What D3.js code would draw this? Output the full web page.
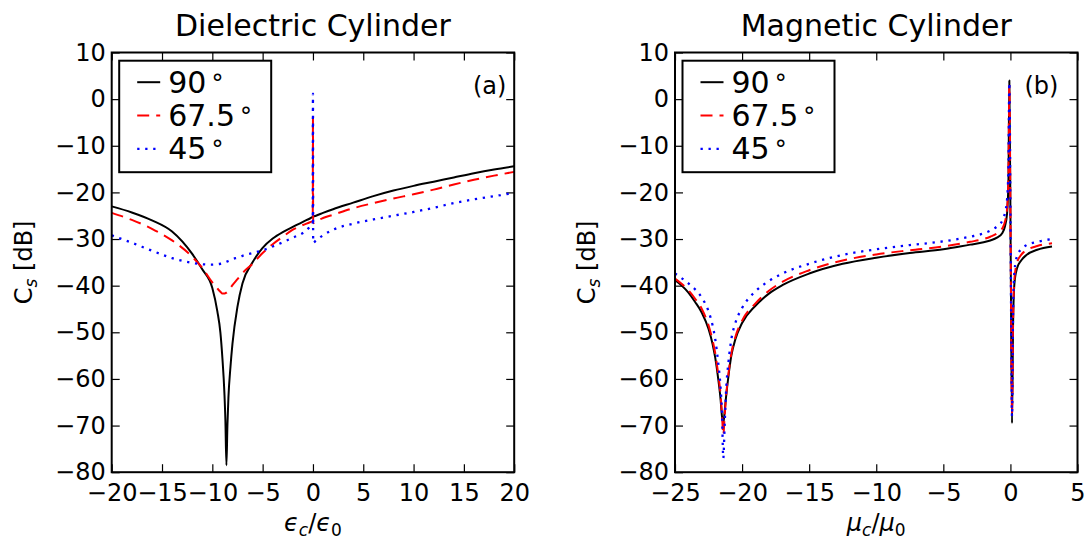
<!DOCTYPE html>
<html>
<head>
<meta charset="utf-8">
<script src="https://cdn.jsdelivr.net/npm/d3@7"></script>
<style>
  body { margin: 0; background: #fff; }
  svg text { font-family: "DejaVu Sans", sans-serif; }
  .tick text { font-size: 24px; fill: #000; }
  .tick line { stroke: #000; stroke-width: 1.2; }
</style>
</head>
<body>
<svg width="1087" height="540"></svg>
<script>
// dielectric cylinder, x = eps_c/eps_0
var epsX = [-20, -18, -16, -14, -12, -11, -10, -9.5, -9.2, -9.0, -8.8, -8.7, -8.6, -8.5, -8.4, -8.2, -8.0, -7.5, -7, -6, -5, -4, -3, -2, -1, -0.3, -0.02, 0, 0.02, 0.3, 1, 2, 4, 6, 8, 10, 12, 14, 16, 18, 20];
var eps90 = [-23.0, -24.3, -26.0, -28.4, -33.2, -36.5, -40.5, -45.5, -50, -55.5, -63, -69, -78.5, -70, -64, -57.5, -52.5, -44.5, -39.5, -35.0, -31.9, -29.9, -28.5, -27.4, -26.3, -25.6, -25.3, -25.3, -25.2, -25.0, -24.4, -23.6, -22.2, -20.8, -19.6, -18.6, -17.7, -16.8, -15.9, -15.1, -14.4];
var eps675 = [-24.4, -25.9, -27.8, -30.3, -33.8, -36.2, -39.3, -40.6, -41.3, -41.7, -41.7, -41.6, -41.5, -41.3, -41.0, -40.5, -39.9, -38.6, -37.3, -35.3, -33.0, -31.1, -29.5, -28.0, -27.0, -26.4, -26.1, -4, -26.6, -26.2, -25.5, -24.8, -23.4, -22.3, -21.3, -20.4, -19.4, -18.3, -17.3, -16.4, -15.6];
var eps45 = [-29.2, -30.8, -32.5, -34.1, -35.1, -35.4, -35.5, -35.4, -35.3, -35.2, -35.1, -35.0, -34.9, -34.8, -34.7, -34.5, -34.3, -34.0, -33.6, -33.0, -32.4, -31.6, -30.7, -29.7, -28.7, -27.4, -26.8, 1.2, -30.8, -30.3, -29.2, -28.0, -26.7, -25.8, -25.0, -24.2, -23.3, -22.3, -21.5, -20.8, -20.1];

// magnetic cylinder, x = mu_c/mu_0
var muX = [-25, -24, -23.5, -23, -22.5, -22.2, -22, -21.8, -21.6, -21.5, -21.4, -21.3, -21.2, -21, -20.8, -20.5, -20, -19, -18, -17, -15, -12.5, -10, -7.5, -5, -3, -2, -1.5, -1, -0.6, -0.4, -0.25, -0.15, -0.08, 0.02, 0.12, 0.2, 0.3, 0.5, 0.8, 1.2, 2, 3.1];
var mu90 = [-38.8, -41.5, -43.5, -45.8, -49.3, -52.5, -55.5, -59.5, -64.5, -68, -69.5, -67, -64, -59, -55, -51.5, -48, -44.3, -41.7, -39.9, -37.4, -35.3, -34.0, -33.0, -32.2, -31.2, -30.7, -30.3, -29.7, -28.7, -27.2, -24.5, -18, 4, -33, -69.5, -48, -39.5, -36.2, -34.6, -33.4, -32.3, -31.6];
var mu675 = [-38.5, -41, -42.8, -45, -48.5, -51.7, -54.5, -58.5, -63.5, -67.5, -72, -68, -64, -58.5, -54.5, -51, -47.5, -43.8, -41.1, -39.2, -36.7, -34.6, -33.3, -32.4, -31.6, -30.6, -30.0, -29.5, -28.8, -27.7, -26.2, -23.5, -17, 3, -32, -67.5, -47, -38.5, -35, -33.4, -32.4, -31.5, -30.9];
var mu45 = [-37.4, -39.5, -40.8, -42.6, -45.5, -48.5, -51.5, -56, -62, -67, -77, -70, -63, -56, -51.5, -48, -44.8, -41.2, -39, -37.4, -35.3, -33.4, -32.2, -31.3, -30.5, -29.5, -28.8, -28.2, -27.3, -26.0, -24.3, -21.5, -15, 3.5, -32, -68, -45, -37, -33.6, -32.2, -31.3, -30.6, -30.0];

var yTicks = [10, 0, -10, -20, -30, -40, -50, -60, -70, -80];
var epsTicks = [-20, -15, -10, -5, 0, 5, 10, 15, 20];
var muTicks = [-25, -20, -15, -10, -5, 0, 5];
var angles = ["90", "67.5", "45"];

var svg = d3.select("svg");
var fmt = d3.format("d");

var styles = [
  { color: "#000", width: 2, dash: null },
  { color: "#ff0000", width: 2, dash: "12,7" },
  { color: "#0000ff", width: 2.3, dash: "2.3,5.7" }
];

function panel(id, left, xDomain, xTicks, xs, ys, title, tag, tagX, xLabelA) {
  var top = 52.5, w = 402.5, h = 419.7;
  var x = d3.scaleLinear().domain(xDomain).range([0, w]);
  var y = d3.scaleLinear().domain([-80, 10]).range([h, 0]);
  var g = svg.append("g").attr("transform", "translate(" + left + "," + top + ")");

  g.append("clipPath").attr("id", "clip" + id)
    .append("rect").attr("width", w).attr("height", h);

  g.append("g").attr("transform", "translate(0," + h + ")")
    .call(d3.axisBottom(x).tickValues(xTicks).tickFormat(fmt).tickSizeInner(-8).tickSizeOuter(0).tickPadding(12));
  g.append("g")
    .call(d3.axisTop(x).tickValues(xTicks).tickFormat("").tickSizeInner(-8).tickSizeOuter(0));
  g.append("g")
    .call(d3.axisLeft(y).tickValues(yTicks).tickFormat(fmt).tickSizeInner(-8).tickSizeOuter(0).tickPadding(6));
  g.append("g").attr("transform", "translate(" + w + ",0)")
    .call(d3.axisRight(y).tickValues(yTicks).tickFormat("").tickSizeInner(-8).tickSizeOuter(0));
  g.selectAll(".domain").remove();
  g.selectAll("g").attr("font-family", null).attr("font-size", null);

  var line = d3.line()
    .x(function(d) { return x(d[0]); })
    .y(function(d) { return y(d[1]); })
    .curve(d3.curveMonotoneX);

  var curves = g.append("g").attr("clip-path", "url(#clip" + id + ")");
  ys.forEach(function(vals, i) {
    var pts = xs.map(function(v, k) { return [v, vals[k]]; });
    curves.append("path")
      .attr("d", line(pts))
      .attr("fill", "none")
      .attr("stroke", styles[i].color)
      .attr("stroke-width", styles[i].width)
      .attr("stroke-dasharray", styles[i].dash)
      .attr("stroke-linejoin", "round");
  });

  g.append("rect").attr("width", w).attr("height", h)
    .attr("fill", "none").attr("stroke", "#000").attr("stroke-width", 2);

  // legend
  var lg = g.append("g").attr("transform", "translate(7.5,8.2)");
  lg.append("rect").attr("width", 152).attr("height", 111.5)
    .attr("fill", "#fff").attr("stroke", "#000").attr("stroke-width", 2);
  angles.forEach(function(a, i) {
    var base = 32 + i * 33.3;
    lg.append("line")
      .attr("x1", 18).attr("x2", 41)
      .attr("y1", base - 10.5).attr("y2", base - 10.5)
      .attr("stroke", styles[i].color)
      .attr("stroke-width", styles[i].width)
      .attr("stroke-dasharray", styles[i].dash);
    var t = lg.append("text").attr("x", 49).attr("y", base)
      .style("font-size", "30px").text(a);
    t.append("tspan").attr("dx", 5).attr("dy", -1).style("font-size", "24px").text("°");
  });

  g.append("text").attr("x", x(tagX)).attr("y", y(1))
    .style("font-size", "24px").text(tag);

  svg.append("text").attr("x", left + w / 2).attr("y", 36)
    .attr("text-anchor", "middle").style("font-size", "30px").text(title);

  var yl = svg.append("text")
    .attr("transform", "translate(" + (left - 80) + "," + (top + h / 2) + ") rotate(-90)")
    .attr("text-anchor", "middle").style("font-size", "24px");
  yl.append("tspan").text("C");
  yl.append("tspan").attr("dy", 5).style("font-size", "17px").style("font-style", "italic").text("s");
  yl.append("tspan").attr("dy", -5).text(" [dB]");

  var xl = svg.append("text").attr("x", left + w / 2).attr("y", 531)
    .attr("text-anchor", "middle").style("font-size", "24px").style("font-style", "italic");
  xl.append("tspan").text(xLabelA);
  xl.append("tspan").attr("dy", 5).style("font-size", "17px").text("c");
  xl.append("tspan").attr("dy", -5).style("font-style", "normal").text("/");
  xl.append("tspan").text(xLabelA);
  xl.append("tspan").attr("dy", 5).style("font-size", "17px").style("font-style", "normal").text("0");
}

panel("a", 111.7, [-20, 20], epsTicks, epsX, [eps90, eps675, eps45], "Dielectric Cylinder", "(a)", 15.9, "ϵ");
panel("b", 675, [-25, 5], muTicks, muX, [mu90, mu675, mu45], "Magnetic Cylinder", "(b)", 1.05, "μ");
</script>
</body>
</html>
